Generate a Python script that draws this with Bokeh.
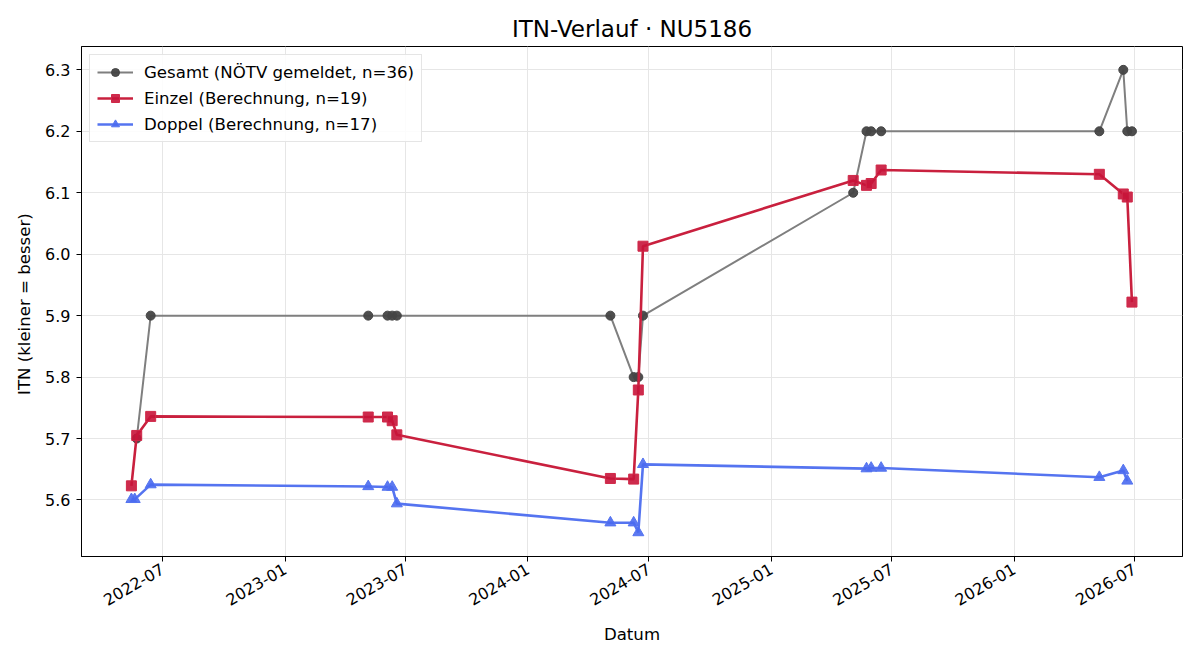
import math
import pandas as pd
from bokeh.plotting import figure
from bokeh.models import (FixedTicker, DatetimeTickFormatter, PrintfTickFormatter,
                          Range1d, Legend, LegendItem)
from bokeh.embed import file_html
from bokeh.resources import INLINE

# ---- data ----
gesamt_dates = ["2022-05-23", "2022-06-13", "2023-05-06", "2023-06-04", "2023-06-11",
                "2023-06-18", "2024-05-04", "2024-06-08", "2024-06-15", "2024-06-22",
                "2025-05-04", "2025-05-24", "2025-05-31", "2025-06-15", "2026-05-09",
                "2026-06-14", "2026-06-20", "2026-06-27"]
gesamt_itn = [5.70, 5.90, 5.90, 5.90, 5.90, 5.90, 5.90, 5.80, 5.80, 5.90,
              6.10, 6.20, 6.20, 6.20, 6.20, 6.30, 6.20, 6.20]

einzel_dates = ["2022-05-15", "2022-05-23", "2022-06-13", "2023-05-06", "2023-06-04",
                "2023-06-11", "2023-06-18", "2024-05-04", "2024-06-08", "2024-06-15",
                "2024-06-22", "2025-05-04", "2025-05-24", "2025-05-31", "2025-06-15",
                "2026-05-09", "2026-06-14", "2026-06-20", "2026-06-27"]
einzel_itn = [5.623, 5.705, 5.736, 5.735, 5.735, 5.729, 5.706, 5.635, 5.634, 5.779,
              6.013, 6.120, 6.112, 6.115, 6.137, 6.130, 6.098, 6.093, 5.922]

doppel_dates = ["2022-05-15", "2022-05-20", "2022-06-13", "2023-05-06", "2023-06-04",
                "2023-06-11", "2023-06-18", "2024-05-04", "2024-06-08", "2024-06-15",
                "2024-06-22", "2025-05-24", "2025-05-31", "2025-06-15", "2026-05-09",
                "2026-06-14", "2026-06-20"]
doppel_itn = [5.601, 5.601, 5.625, 5.622, 5.621, 5.621, 5.594, 5.563, 5.563, 5.547,
              5.658, 5.651, 5.652, 5.652, 5.637, 5.648, 5.631]

x_tick_dates = ["2022-07-01", "2023-01-01", "2023-07-01", "2024-01-01", "2024-07-01",
                "2025-01-01", "2025-07-01", "2026-01-01", "2026-07-01"]
y_ticks = [5.6, 5.7, 5.8, 5.9, 6.0, 6.1, 6.2, 6.3]

labels = ["Gesamt (NÖTV gemeldet, n=36)", "Einzel (Berechnung, n=19)",
          "Doppel (Berechnung, n=17)"]

FONT = "DejaVu Sans"

g_x = pd.to_datetime(gesamt_dates)
e_x = pd.to_datetime(einzel_dates)
d_x = pd.to_datetime(doppel_dates)

p = figure(width=1200, height=660, x_axis_type="datetime",
           output_backend="svg", toolbar_location=None,
           min_border_left=81, min_border_right=18, min_border_top=46,
           min_border_bottom=104,
           x_range=Range1d(pd.Timestamp("2022-03-01"), pd.Timestamp("2026-09-11")),
           y_range=Range1d(5.508, 6.338))

p.title.text = "ITN-Verlauf · NU5186"
p.title.align = "center"
p.title.text_font = FONT
p.title.text_font_size = "23px"
p.title.text_font_style = "normal"
p.title.text_color = "#000000"
p.title.offset = 0

# lines + markers
gl = p.line(g_x, gesamt_itn, line_color="#7f7f7f", line_width=2)
gm = p.scatter(g_x, gesamt_itn, marker="circle", size=9, fill_color="#444444",
               line_color="#444444", fill_alpha=0.95)
el = p.line(e_x, einzel_itn, line_color="#c9203e", line_width=2.6)
em = p.scatter(e_x, einzel_itn, marker="square", size=10, fill_color="#c8143a",
               line_color="#d02848", fill_alpha=0.9)
dl = p.line(d_x, doppel_itn, line_color="#5574f0", line_width=2.6)
dm = p.scatter(d_x, doppel_itn, marker="triangle", size=11, fill_color="#4a6af0",
               line_color="#5574f0", fill_alpha=0.9)

legend = Legend(items=[LegendItem(label=labels[0], renderers=[gl, gm]),
                       LegendItem(label=labels[1], renderers=[el, em]),
                       LegendItem(label=labels[2], renderers=[dl, dm])],
                location="top_left")
legend.label_text_font = FONT
legend.label_text_font_size = "16.6px"
legend.label_text_color = "#000000"
legend.glyph_width = 36
legend.glyph_height = 20
legend.label_standoff = 11
legend.spacing = 6
legend.padding = 7
legend.margin = 8
legend.border_line_color = "#cccccc"
legend.border_line_width = 1
legend.background_fill_alpha = 0.85
p.add_layout(legend)

# axes
p.xaxis.ticker = FixedTicker(ticks=[pd.Timestamp(d).value / 1e6 for d in x_tick_dates])
fmt = "%Y-%m"
p.xaxis.formatter = DatetimeTickFormatter(years=fmt, months=fmt, days=fmt, hours=fmt,
                                          minutes=fmt, seconds=fmt, milliseconds=fmt,
                                          microseconds=fmt, hourmin=fmt, minsec=fmt)
p.xaxis.major_label_orientation = math.pi / 6
p.yaxis.ticker = FixedTicker(ticks=y_ticks)
p.yaxis.formatter = PrintfTickFormatter(format="%.1f")
p.xaxis.axis_label = "Datum"
p.yaxis.axis_label = "ITN  (kleiner = besser)"

for ax in (p.xaxis, p.yaxis):
    ax.major_label_text_font = FONT
    ax.major_label_text_font_size = "16px"
    ax.major_label_text_color = "#000000"
    ax.axis_label_text_font = FONT
    ax.axis_label_text_font_size = "16.6px"
    ax.axis_label_text_font_style = "normal"
    ax.axis_label_text_color = "#000000"
    ax.major_tick_out = 5
    ax.major_tick_in = 0
    ax.minor_tick_out = 0
    ax.minor_tick_in = 0
    ax.major_tick_line_color = "#000000"
    ax.axis_line_color = "#000000"
    ax.major_label_standoff = 6
p.xaxis.axis_label_standoff = 11
p.yaxis.axis_label_standoff = 8

p.outline_line_color = "#000000"
p.outline_line_width = 1
p.xgrid.grid_line_color = "#e6e6e6"
p.ygrid.grid_line_color = "#e6e6e6"
p.background_fill_color = "#ffffff"
p.border_fill_color = "#ffffff"

open("out.html", "w").write(file_html(p, INLINE))
